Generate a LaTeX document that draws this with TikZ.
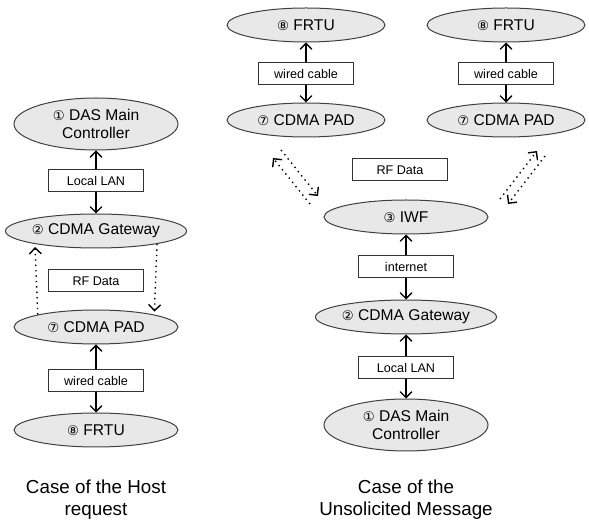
\documentclass[tikz,border=0pt]{standalone}
\usepackage{fontspec}
\setmainfont{Liberation Sans}
\newfontfamily\numfont{DejaVu Sans}
\usepackage{tikz}
\usetikzlibrary{arrows, shapes.geometric, positioning}
\tikzset{>=angle 90}
\newcommand{\nr}[1]{{\numfont\scalebox{0.85}{#1}}}

\begin{document}
\begin{tikzpicture}[>=angle 90, x=0.5pt, y=-0.5pt, line width=0.7pt,
	unit/.style={ellipse, draw=black!75, line width=0.5pt, fill=black!9, inner sep=0pt,
		minimum width=82pt, minimum height=17pt, align=center, font=\fontsize{7.8}{9}\selectfont},
	tall/.style={unit, minimum height=26pt},
	medium/.style={draw=black!80, line width=0.5pt, fill=white, inner sep=0pt,
		minimum width=47.5pt, minimum height=11pt, font=\fontsize{6.3}{7}\selectfont},
	air/.style={dotted, ->, shorten >=1.5pt},
	caption/.style={align=center, font=\fontsize{9.4}{11}\selectfont}]

		\useasboundingbox (0,0) rectangle (589,523);

		% host request
		\node[tall] (M1) at (96,124) {\nr{①} DAS Main\\Controller};
		\node[medium] (L1) at (96,181) {Local LAN};
		\node[unit] (G1) at (96,231) {\nr{②} CDMA Gateway};
		\node[medium] (R1) at (96,281) {RF Data};
		\node[unit] (P1) at (96,327) {\nr{⑦} CDMA PAD};
		\node[medium] (W1) at (96,381) {wired cable};
		\node[unit] (F1) at (96,430) {\nr{⑧} FRTU};
		\draw [->] (L1)--(M1);
		\draw [->] (L1)--(G1);
		\draw [air] (P1.168)--(G1.192);
		\draw [air] (G1.-12)--(P1.12);
		\draw [->] (W1)--(P1);
		\draw [->] (W1)--(F1);
		\node[caption] (C1) at (96,500) {Case of the Host\\request};

		% unsolicited message
		\node[unit, minimum width=79pt] (F2) at (306,25) {\nr{⑧} FRTU};
		\node[medium] (W2) at (306,74) {wired cable};
		\node[unit, minimum width=79pt] (P2) at (306,120) {\nr{⑦} CDMA PAD};
		\node[unit, minimum width=79pt] (F3) at (506,25) {\nr{⑧} FRTU};
		\node[medium] (W3) at (506,74) {wired cable};
		\node[unit, minimum width=79pt] (P3) at (506,120) {\nr{⑦} CDMA PAD};
		\node[medium] (R2) at (400,170) {RF Data};
		\node[unit] (I2) at (406,217) {\nr{③} IWF};
		\node[medium] (N2) at (406,267) {internet};
		\node[unit] (G2) at (406,317) {\nr{②} CDMA Gateway};
		\node[medium] (L2) at (406,368) {Local LAN};
		\node[tall] (M2) at (406,425) {\nr{①} DAS Main\\Controller};
		\draw [->] (W2)--(F2);
		\draw [->] (W2)--(P2);
		\draw [->] (W3)--(F3);
		\draw [->] (W3)--(P3);
		\draw [->] (N2)--(I2);
		\draw [->] (N2)--(G2);
		\draw [->] (L2)--(G2);
		\draw [->] (L2)--(M2);

		\coordinate (a1) at (281,150);
		\coordinate (a2) at (318,196);
		\coordinate (a3) at (310,204);
		\coordinate (a4) at (273,158);
		\coordinate (b1) at (500,199);
		\coordinate (b2) at (537,151);
		\coordinate (b3) at (545,156);
		\coordinate (b4) at (508,204);
		\draw [dotted, ->] (a1)--(a2);
		\draw [dotted, ->] (a3)--(a4);
		\draw [dotted, ->] (b1)--(b2);
		\draw [dotted, ->] (b3)--(b4);
		\node[caption] (C2) at (406,500) {Case of the\\Unsolicited Message};

\end{tikzpicture}
\end{document}
